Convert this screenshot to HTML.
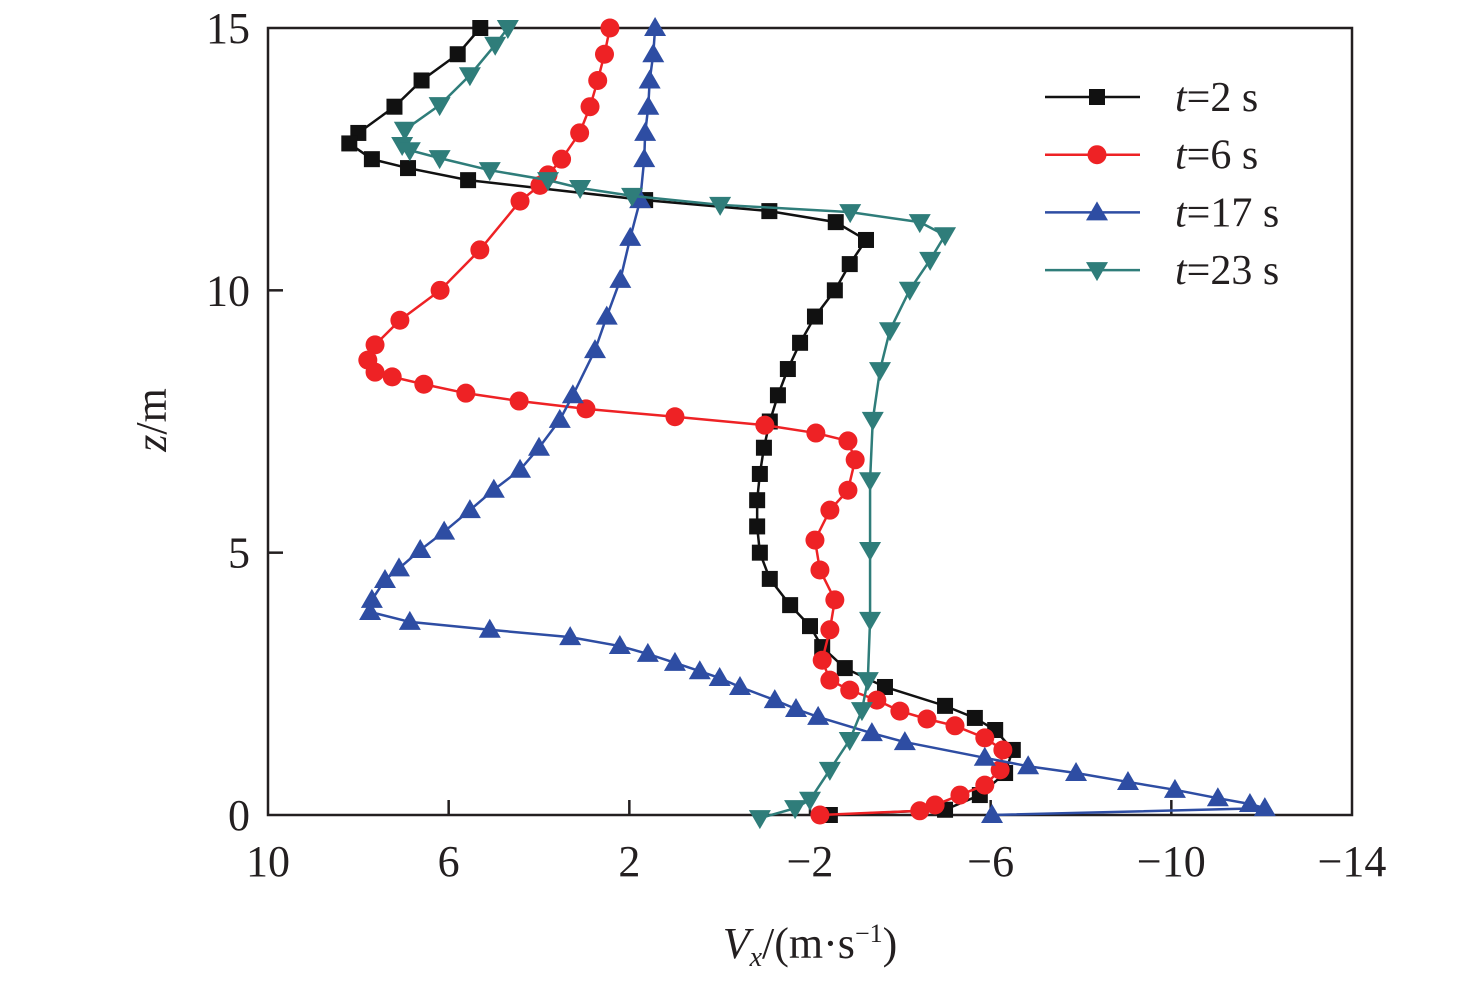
<!DOCTYPE html>
<html><head><meta charset="utf-8"><style>
body{margin:0;background:#fff}
svg text{font-family:"Liberation Serif",serif;fill:#231f20}
</style></head><body>
<svg id="chart" width="1476" height="985" xmlns="http://www.w3.org/2000/svg" font-family="Liberation Serif, serif">
<rect x="268" y="28" width="1084" height="787" fill="none" stroke="#231f20" stroke-width="2.5"/>
<g id="ticks"></g>
<g id="series"></g>
<text font-family="Liberation Serif, serif" transform="translate(166,420) rotate(-90)" font-size="44" text-anchor="middle"><tspan font-style="italic">z</tspan>/m</text>
<text font-family="Liberation Serif, serif" x="810" y="958" font-size="44" text-anchor="middle"><tspan font-style="italic">V</tspan><tspan font-style="italic" font-size="28" dy="8">x</tspan><tspan dy="-8">/(m·s</tspan><tspan font-size="26" dy="-16">−1</tspan><tspan dy="16">)</tspan></text>
<g id="legend"></g>
</svg>
<script>
const xTicks=[10,6,2,-2,-6,-10,-14];
const xTickLabels=["10","6","2","\u22122","\u22126","\u221210","\u221214"];
const yTicks=[0,5,10,15];
const yTickLabels=["0","5","10","15"];
const seriesNames=["t=2 s","t=6 s","t=17 s","t=23 s"];
const s1vx=[5.3,5.8,6.6,7.2,8.0,8.2,7.7,6.9,5.57,1.65,-1.1,-2.57,-3.24,-2.88,-2.55,-2.11,-1.78,-1.51,-1.29,-1.11,-0.98,-0.89,-0.83,-0.83,-0.89,-1.11,-1.56,-2.0,-2.27,-2.77,-3.66,-4.99,-5.65,-6.1,-6.49,-6.32,-5.76,-4.99,-2.44];
const s1z=[15,14.5,14,13.5,13,12.8,12.5,12.33,12.1,11.72,11.51,11.3,10.96,10.5,10,9.5,9,8.5,8,7.5,7,6.5,6,5.5,5,4.5,4,3.6,3.2,2.8,2.44,2.08,1.85,1.62,1.24,0.8,0.38,0.1,0];
const s2vx=[2.43,2.55,2.7,2.87,3.1,3.5,3.8,3.98,4.42,5.31,6.19,7.08,7.63,7.79,7.63,7.25,6.55,5.62,4.44,2.96,0.99,-1.0,-2.13,-2.84,-3.0,-2.84,-2.44,-2.11,-2.22,-2.55,-2.44,-2.27,-2.44,-2.88,-3.48,-3.99,-4.59,-5.21,-5.87,-6.27,-6.21,-5.87,-5.32,-4.77,-4.43,-2.22];
const s2z=[15,14.5,14,13.5,13,12.5,12.2,12.0,11.7,10.77,10,9.43,8.96,8.67,8.44,8.35,8.21,8.04,7.89,7.74,7.59,7.43,7.28,7.13,6.77,6.19,5.81,5.24,4.67,4.1,3.53,2.95,2.57,2.38,2.19,1.98,1.83,1.7,1.47,1.24,0.86,0.57,0.38,0.19,0.08,0];
const s3vx=[1.43,1.47,1.55,1.58,1.65,1.67,1.76,1.98,2.2,2.5,2.76,3.25,3.54,4.0,4.42,5.0,5.53,6.1,6.63,7.1,7.41,7.7,7.74,6.86,5.09,3.31,2.21,1.59,0.99,0.44,0.0,-0.45,-1.22,-1.69,-2.18,-3.37,-4.1,-5.87,-6.83,-7.89,-9.04,-10.08,-11.03,-11.74,-12.07,-6.03];
const s3z=[15,14.5,14,13.5,13,12.5,11.72,11,10.2,9.5,8.86,8,7.53,7,6.58,6.2,5.81,5.4,5.05,4.7,4.48,4.1,3.87,3.68,3.53,3.39,3.22,3.07,2.9,2.74,2.61,2.44,2.19,2.02,1.87,1.56,1.39,1.09,0.93,0.8,0.63,0.48,0.32,0.21,0.13,0];
const s4vx=[4.69,4.97,5.53,6.2,6.97,7.03,6.86,6.2,5.09,3.8,3.09,1.94,-0.01,-2.89,-4.43,-4.99,-4.66,-4.21,-3.77,-3.55,-3.39,-3.33,-3.33,-3.33,-3.28,-3.15,-2.88,-2.44,-2.0,-1.67,-0.89];
const s4z=[15,14.68,14.1,13.53,13.06,12.77,12.67,12.52,12.29,12.1,11.95,11.8,11.63,11.49,11.3,11.05,10.58,10.01,9.24,8.48,7.53,6.38,5.05,3.72,2.57,2,1.43,0.86,0.29,0.13,-0.06];
const colors=["#111","#ee2225","#2e4da3","#2f7d7a"];
const markers=["square","circle","tri","tridown"];
const X=v=>268+(10-v)*1084/24;
const Y=v=>815-v*787/15;
const NS="http://www.w3.org/2000/svg";
function mk(tag,attrs,parent){const e=document.createElementNS(NS,tag);for(const k in attrs)e.setAttribute(k,attrs[k]);parent.appendChild(e);return e;}
const tk=document.getElementById('ticks');
xTicks.forEach((v,i)=>{
 if(i>0&&i<xTicks.length-1){const l=mk('line',{x1:X(v),x2:X(v),y1:815,y2:800,stroke:'#231f20','stroke-width':2.5},tk);
 
 }
 const t=mk('text',{x:X(v),y:876,'font-size':44,'text-anchor':'middle','font-family':'Liberation Serif, serif'},tk);t.textContent=xTickLabels[i];
 
 
});
yTicks.forEach((v,i)=>{
 if(i>0&&i<yTicks.length-1){const l=mk('line',{x1:268,x2:283,y1:Y(v),y2:Y(v),stroke:'#231f20','stroke-width':2.5},tk);
 
 }
 const t=mk('text',{x:250,y:Y(v)+15,'font-size':44,'text-anchor':'end','font-family':'Liberation Serif, serif'},tk);t.textContent=yTickLabels[i];
 
 
});
function marker(type,x,y,c,parent){
 let e;
 if(type==='square')e=mk('rect',{x:x-8,y:y-8,width:16,height:16,fill:c},parent);
 else if(type==='circle')e=mk('circle',{cx:x,cy:y,r:9.5,fill:c},parent);
 else if(type==='tri')e=mk('polygon',{points:`${x},${y-11} ${x-11},${y+8} ${x+11},${y+8}`,fill:c},parent);
 else e=mk('polygon',{points:`${x},${y+11} ${x-11},${y-8} ${x+11},${y-8}`,fill:c},parent);
 return e;
}
const sg=document.getElementById('series');
const data=[[s1vx,s1z],[s2vx,s2z],[s3vx,s3z],[s4vx,s4z]];
data.forEach((d,si)=>{
 const g=mk('g',{},sg);
 
 
 const pts=d[0].map((v,i)=>X(v)+','+Y(d[1][i])).join(' ');
 const pl=mk('polyline',{points:pts,fill:'none',stroke:colors[si],'stroke-width':2.5},g);
 
 
 d[0].forEach((v,i)=>{const m=marker(markers[si],X(v),Y(d[1][i]),colors[si],g);
 
 });
});
const lg=document.getElementById('legend');
seriesNames.forEach((n,i)=>{
 const y=97+i*57.7;
 const l=mk('line',{x1:1045,x2:1140,y1:y,y2:y,stroke:colors[i],'stroke-width':2.5},lg);
 
 
 const m=marker(markers[i],1097,y,colors[i],lg);
 
 
 const t=mk('text',{x:1175,y:y+14,'font-size':42,'font-family':'Liberation Serif, serif'},lg);
 const parts=n.split('=');
 t.innerHTML='<tspan font-style="italic">'+parts[0]+'</tspan>='+parts[1];
 
 
});
</script>
</body></html>
